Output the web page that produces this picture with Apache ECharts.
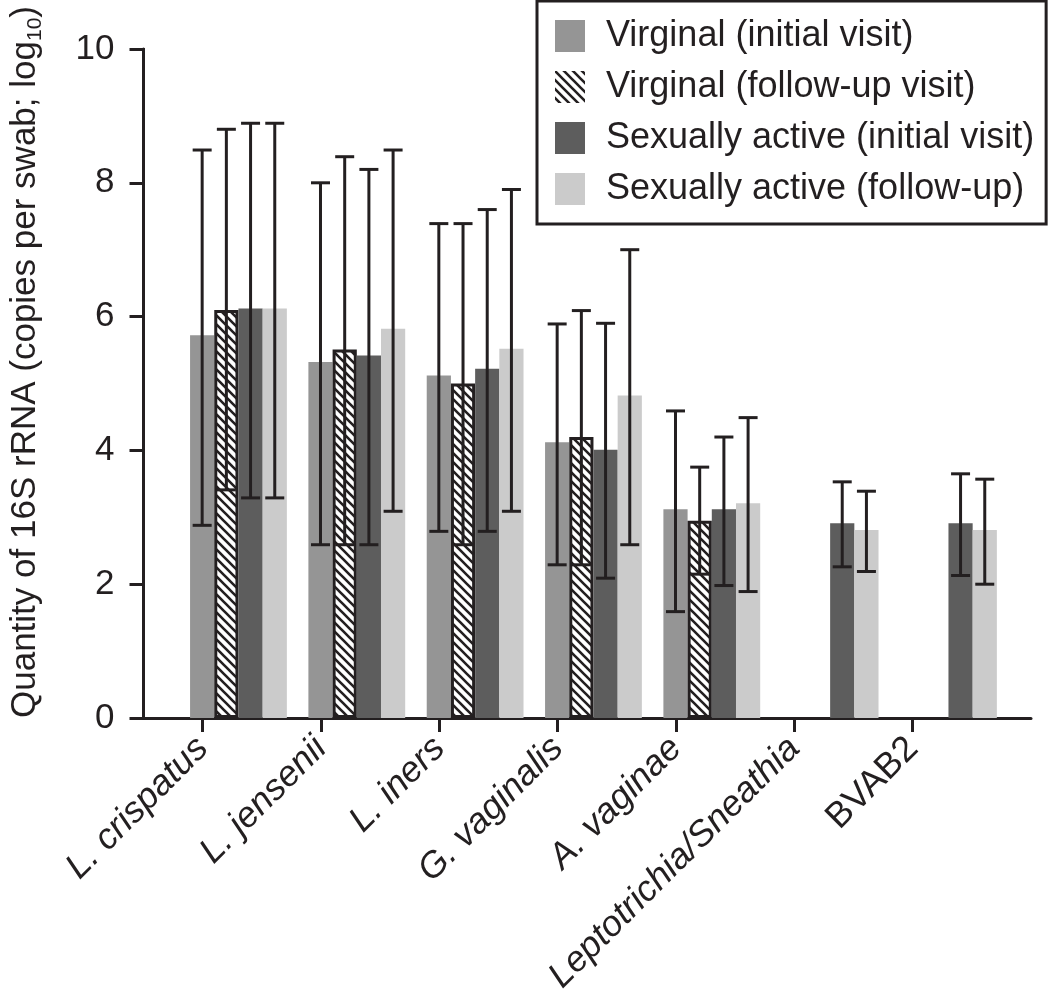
<!DOCTYPE html>
<html><head><meta charset="utf-8">
<script src="https://cdn.jsdelivr.net/npm/echarts@6/dist/echarts.min.js"></script>
<style>html,body{margin:0;padding:0;background:#fff}#c{width:1050px;height:1005px}</style>
</head><body><div id="c"></div>
<script>
// ---- data ----
const categories = ['L. crispatus','L. jensenii','L. iners','G. vaginalis','A. vaginae','Leptotrichia/Sneathia','BVAB2'];
const italicCats = [true,true,true,true,true,true,false];
const seriesNames = ['Virginal (initial visit)','Virginal (follow-up visit)','Sexually active (initial visit)','Sexually active (follow-up)'];
const virginInitial     = [5.72,5.32,5.12,4.12,3.12,null,null];
const virginInitialLow  = [2.88,2.59,2.79,2.29,1.59,null,null];
const virginInitialHigh = [8.49,8.00,7.39,5.89,4.59,null,null];
const virginFollow      = [6.10,5.51,5.00,4.20,2.95,null,null];
const virginFollowLow   = [3.41,2.59,2.59,2.29,2.15,null,null];
const virginFollowHigh  = [8.80,8.39,7.39,6.09,3.75,null,null];
const activeInitial     = [6.12,5.42,5.22,4.01,3.12,2.91,2.91];
const activeInitialLow  = [3.29,2.59,2.79,2.09,1.98,2.26,2.13];
const activeInitialHigh = [8.89,8.20,7.60,5.90,4.20,3.53,3.65];
const activeFollow      = [6.12,5.82,5.52,4.82,3.21,2.81,2.81];
const activeFollowLow   = [3.29,3.09,3.09,2.59,1.89,2.19,2.00];
const activeFollowHigh  = [8.89,8.49,7.90,7.00,4.49,3.39,3.57];
const yMin = 0, yMax = 10, yStep = 2;
const yTitle = 'Quantity of 16S rRNA (copies per swab; log';
const yTitleSub = '10';

// ---- style ----
const INK = '#231f20';
const FONT = '"Liberation Sans", Arial, Helvetica, sans-serif';
const COLORS = ['#959595', null, '#5d5d5d', '#cbcbcb'];
const BAR_W = 24.2;
const CAP = 19;
const UNIT_PX = 120;
const SHIFT = 1.5 * BAR_W / UNIT_PX;
const PAD = 0.5;                       // axis space before first category (category units)
const SPAN = categories.length + 0.5;  // total axis length (category units)

function hatch(){
  const s = 9, c = document.createElement('canvas'); c.width = s; c.height = s;
  const g = c.getContext('2d');
  g.fillStyle = '#fff'; g.fillRect(0,0,s,s);
  g.strokeStyle = INK; g.lineWidth = 2.6; g.lineCap = 'square';
  g.beginPath();
  g.moveTo(-2,-2); g.lineTo(s+2,s+2);
  g.moveTo(-2,s-2); g.lineTo(2,s+2);
  g.moveTo(s-2,-2); g.lineTo(s+2,2);
  g.stroke();
  return c;
}
const HATCH = {image: hatch(), repeat: 'repeat'};

const tickPos = categories.map((_, i) => i + PAD);

function barSeries(k, vals, itemStyle){
  return {
    type: 'bar', name: seriesNames[k], xAxisIndex: 1, yAxisIndex: 0,
    barWidth: BAR_W, barGap: '0%', z: 2, silent: true,
    data: vals.map((v, i) => v == null ? null : [i, v]).filter(Boolean),
    itemStyle: itemStyle
  };
}
function errSeries(k, low, high){
  return {
    type: 'custom', xAxisIndex: 1, yAxisIndex: 0, z: 5, silent: true,
    data: low.map((l, i) => l == null ? null : [i, l, high[i]]).filter(Boolean),
    encode: {x: 0, y: [1, 2]},
    renderItem: function(params, api){
      const i = api.value(0);
      const pl = api.coord([i, api.value(1)]);
      const ph = api.coord([i, api.value(2)]);
      const x = pl[0] + (k - 1.5) * BAR_W;
      const st = {stroke: INK, lineWidth: 3};
      return {type: 'group', children: [
        {type: 'line', shape: {x1: x, y1: ph[1], x2: x, y2: pl[1]}, style: st},
        {type: 'line', shape: {x1: x - CAP/2, y1: ph[1], x2: x + CAP/2, y2: ph[1]}, style: st},
        {type: 'line', shape: {x1: x - CAP/2, y1: pl[1], x2: x + CAP/2, y2: pl[1]}, style: st}
      ]};
    }
  };
}
// y axis spine, drawn through the axis scales on its own layer (backs up the axis line)
const spineSeries = {
  type: 'custom', xAxisIndex: 0, yAxisIndex: 0, z: 100, zlevel: 1, silent: true, clip: false,
  data: [[0, yMin, yMax]],
  encode: {x: 0, y: [1, 2]},
  renderItem: function(params, api){
    const a = api.coord([api.value(0), api.value(1)]);
    const b = api.coord([api.value(0), api.value(2)]);
    return {type: 'line', shape: {x1: a[0], y1: a[1] + 1.5, x2: b[0], y2: b[1] - 1}, style: {stroke: INK, lineWidth: 3}};
  }
};

const chart = echarts.init(document.getElementById('c'), null, {renderer: 'canvas'});
chart.setOption({
  animation: false,
  backgroundColor: '#fff',
  textStyle: {fontFamily: FONT, color: INK},
  grid: {left: 131, right: 19, top: 49, bottom: 287, containLabel: false},
  legend: {
    orient: 'vertical', left: 537, top: 1,
    itemWidth: 30, itemHeight: 32, itemGap: 15,
    padding: [17, 12, 17, 18],
    borderColor: INK, borderWidth: 3,
    icon: 'rect', selectedMode: false,
    textStyle: {fontSize: 36, color: INK, fontFamily: FONT, lineHeight: 32, padding: [0, 0, 0, 16]},
    data: seriesNames.map((n, k) => k === 1 ? {name: n, itemStyle: {borderWidth: 0}} : {name: n})
  },
  xAxis: [{
    type: 'value', min: 0, max: SPAN,
    axisLine: {show: true, lineStyle: {color: INK, width: 3}},
    axisTick: {show: true, customValues: tickPos, length: 14, lineStyle: {color: INK, width: 3}},
    splitLine: {show: false},
    axisLabel: {
      customValues: tickPos, rotate: 45, margin: 25,
      formatter: function(v){ const i = Math.round(v - PAD); return (italicCats[i] ? '{i|' : '{n|') + categories[i] + '}'; },
      rich: {
        i: {fontSize: 36, fontStyle: 'italic', color: INK, fontFamily: FONT},
        n: {fontSize: 36, color: INK, fontFamily: FONT}
      }
    }
  }, {
    type: 'value', min: -PAD - SHIFT, max: SPAN - PAD - SHIFT, show: false
  }],
  yAxis: {
    type: 'value', min: yMin, max: yMax, interval: yStep,
    name: '{a|' + yTitle + '}{s|' + yTitleSub + '}{a|)}',
    nameLocation: 'middle', nameRotate: 90, nameGap: 98,
    nameTextStyle: {
      padding: [0, 0, 0, 43],
      rich: {
        a: {fontSize: 35, color: INK, fontFamily: FONT, lineHeight: 40},
        s: {fontSize: 21, color: INK, fontFamily: FONT, lineHeight: 40, verticalAlign: 'bottom'}
      }
    },
    axisLine: {show: true, lineStyle: {color: INK, width: 3}},
    axisTick: {show: true, length: 14, lineStyle: {color: INK, width: 3}},
    splitLine: {show: false},
    axisLabel: {fontSize: 35, color: INK, margin: 29, fontFamily: FONT}
  },
  series: [
    barSeries(0, virginInitial, {color: COLORS[0]}),
    barSeries(1, virginFollow, {color: HATCH, borderColor: INK, borderWidth: 3}),
    barSeries(2, activeInitial, {color: COLORS[2]}),
    barSeries(3, activeFollow, {color: COLORS[3]}),
    errSeries(0, virginInitialLow, virginInitialHigh),
    errSeries(1, virginFollowLow, virginFollowHigh),
    errSeries(2, activeInitialLow, activeInitialHigh),
    errSeries(3, activeFollowLow, activeFollowHigh),
    spineSeries
  ]
});
</script>
</body></html>
